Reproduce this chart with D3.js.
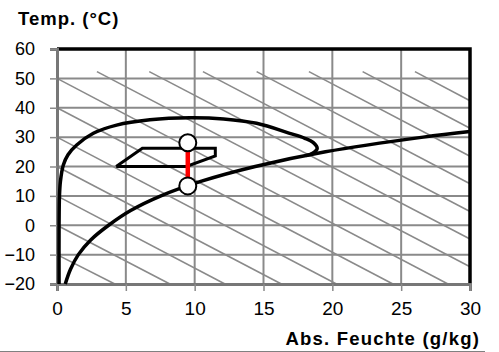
<!DOCTYPE html>
<html>
<head>
<meta charset="utf-8">
<script src="https://cdn.jsdelivr.net/npm/d3@7"></script>
<style>
  body { margin: 0; background: #fff; }
  svg { display: block; font-family: Arial, "Liberation Sans", sans-serif; }
</style>
</head>
<body>
<svg width="499" height="352"></svg>
<script>
const svg = d3.select("svg");

const margin = { top: 49, right: 29, bottom: 68, left: 57 };
const width = 499, height = 352;

// axes
const xTicks = [0, 5, 10, 15, 20, 25, 30];
const yTicks = [-20, -10, 0, 10, 20, 30, 40, 50, 60];

// saturation line (abs. humidity g/kg, temp °C)
const satX = [0.6, 0.98, 1.55, 2.45, 3.75, 5.35, 7.55, 10.5, 14.4, 19.5, 26.6, 30];
const satT = [-20, -15, -10, -5, 0, 5, 10, 15, 20, 25, 30, 31.9];

// outer envelope curve
const envX = [0.15, 0.15, 0.18, 0.25, 0.46, 0.8, 1.43, 2.64, 4.33, 6.75, 9.66, 12.1, 14.5, 16.9, 18.0, 18.6, 18.9, 18.6, 18.1];
const envT = [-20, 0, 10, 15, 20.5, 24, 27.3, 31.3, 34.1, 35.9, 36.6, 36.2, 34.7, 31.3, 29.6, 28.2, 26.2, 24.6, 23.7];

// comfort zone polygon
const zoneX = [4.3, 6.2, 11.5, 11.5, 9.4, 4.3];
const zoneT = [20, 26.2, 26.2, 23.6, 20, 20];

// process (state points)
const stateX = [9.5, 9.5];
const stateT = [28.1, 13.4];

// enthalpy lines: start and end points
const hX1 = [0, 0, 0, 0, 0, 0, 0, 2.9, 6.7, 10.6, 14.5, 18.3, 22.2, 26];
const hT1 = [-10, 0, 10, 20, 30, 40, 50, 52.3, 52.3, 52.3, 52.3, 52.3, 52.3, 52.3];
const hX2 = [4.2, 8.2, 12.2, 16.3, 20.3, 24.4, 28.4, 30, 30, 30, 30, 30, 30, 30];
const hT2 = [-20, -20, -20, -20, -20, -20, -20, -14.1, -4.7, 4.7, 14.1, 23.5, 33, 42.4];

const x = d3.scaleLinear().domain([0, 30]).range([margin.left, width - margin.right]);
const y = d3.scaleLinear().domain([-20, 60]).range([height - margin.bottom, margin.top]);

const grey = "#8a8a8a";

/* grid */
svg.append("g").selectAll("line").data(xTicks).join("line")
    .attr("x1", d => x(d)).attr("x2", d => x(d))
    .attr("y1", y(-20)).attr("y2", y(60))
    .attr("stroke", grey).attr("stroke-width", 2);

svg.append("g").selectAll("line").data(yTicks).join("line")
    .attr("x1", x(0)).attr("x2", x(30))
    .attr("y1", d => y(d)).attr("y2", d => y(d))
    .attr("stroke", grey).attr("stroke-width", 2);

/* enthalpy lines */
svg.append("g").selectAll("line").data(hX1).join("line")
    .attr("x1", (d, i) => x(hX1[i])).attr("y1", (d, i) => y(hT1[i]))
    .attr("x2", (d, i) => x(hX2[i])).attr("y2", (d, i) => y(hT2[i]))
    .attr("stroke", grey).attr("stroke-width", 1.6);

/* plot frame */
svg.append("path")
    .attr("d", `M${x(0)},${y(60)}H${x(30)}V${y(-20)}`)
    .attr("fill", "none").attr("stroke", "#000").attr("stroke-width", 3.5);

/* axes */
const yAxis = svg.append("g")
    .attr("transform", `translate(${x(0)},0)`)
    .call(d3.axisLeft(y).tickValues(yTicks).tickSize(7).tickPadding(15));
const xAxis = svg.append("g")
    .attr("transform", `translate(0,${y(-20)})`)
    .call(d3.axisBottom(x).tickValues(xTicks).tickSize(7).tickPadding(11));

[yAxis, xAxis].forEach(a => {
    a.select(".domain").attr("stroke", "#777").attr("stroke-width", 3);
    a.selectAll(".tick line").attr("stroke", grey).attr("stroke-width", 1.5);
    a.selectAll(".tick text").attr("fill", "#000").attr("font-size", 18);
});
xAxis.selectAll(".tick text").attr("font-size", 19);

/* curves */
const envLine = d3.line()
    .x((d, i) => x(envX[i])).y((d, i) => y(envT[i]))
    .curve(d3.curveCatmullRom.alpha(0.5));
svg.append("path").datum(envX)
    .attr("d", envLine)
    .attr("fill", "none").attr("stroke", "#000").attr("stroke-width", 3.5);

const satLine = d3.line()
    .x((d, i) => x(satX[i])).y((d, i) => y(satT[i]))
    .curve(d3.curveCatmullRom.alpha(0.5));
svg.append("path").datum(satX)
    .attr("d", satLine)
    .attr("fill", "none").attr("stroke", "#000").attr("stroke-width", 3.5);

const zoneLine = d3.line()
    .x((d, i) => x(zoneX[i])).y((d, i) => y(zoneT[i]));
svg.append("path").datum(zoneX)
    .attr("d", zoneLine)
    .attr("fill", "none").attr("stroke", "#000").attr("stroke-width", 3)
    .attr("stroke-linejoin", "miter");

/* process line and points */
svg.append("line")
    .attr("x1", x(stateX[0])).attr("y1", y(stateT[0]))
    .attr("x2", x(stateX[1])).attr("y2", y(stateT[1]))
    .attr("stroke", "#ff0000").attr("stroke-width", 4.5);

svg.append("g").selectAll("circle").data(stateX).join("circle")
    .attr("cx", (d, i) => x(stateX[i])).attr("cy", (d, i) => y(stateT[i]))
    .attr("r", 8.5)
    .attr("fill", "#fff").attr("stroke", "#000").attr("stroke-width", 2);

/* titles */
svg.append("text")
    .attr("x", 18).attr("y", 25)
    .attr("font-size", 18.5).attr("font-weight", "bold")
    .attr("letter-spacing", 1)
    .text("Temp. (°C)");

svg.append("text")
    .attr("x", 480).attr("y", 345)
    .attr("text-anchor", "end")
    .attr("font-size", 18.5).attr("font-weight", "bold")
    .attr("letter-spacing", 1.2)
    .text("Abs. Feuchte (g/kg)");

svg.append("line")
    .attr("x1", 0).attr("x2", 485).attr("y1", 351.5).attr("y2", 351.5)
    .attr("stroke", "#808080").attr("stroke-width", 1);
</script>
</body>
</html>
